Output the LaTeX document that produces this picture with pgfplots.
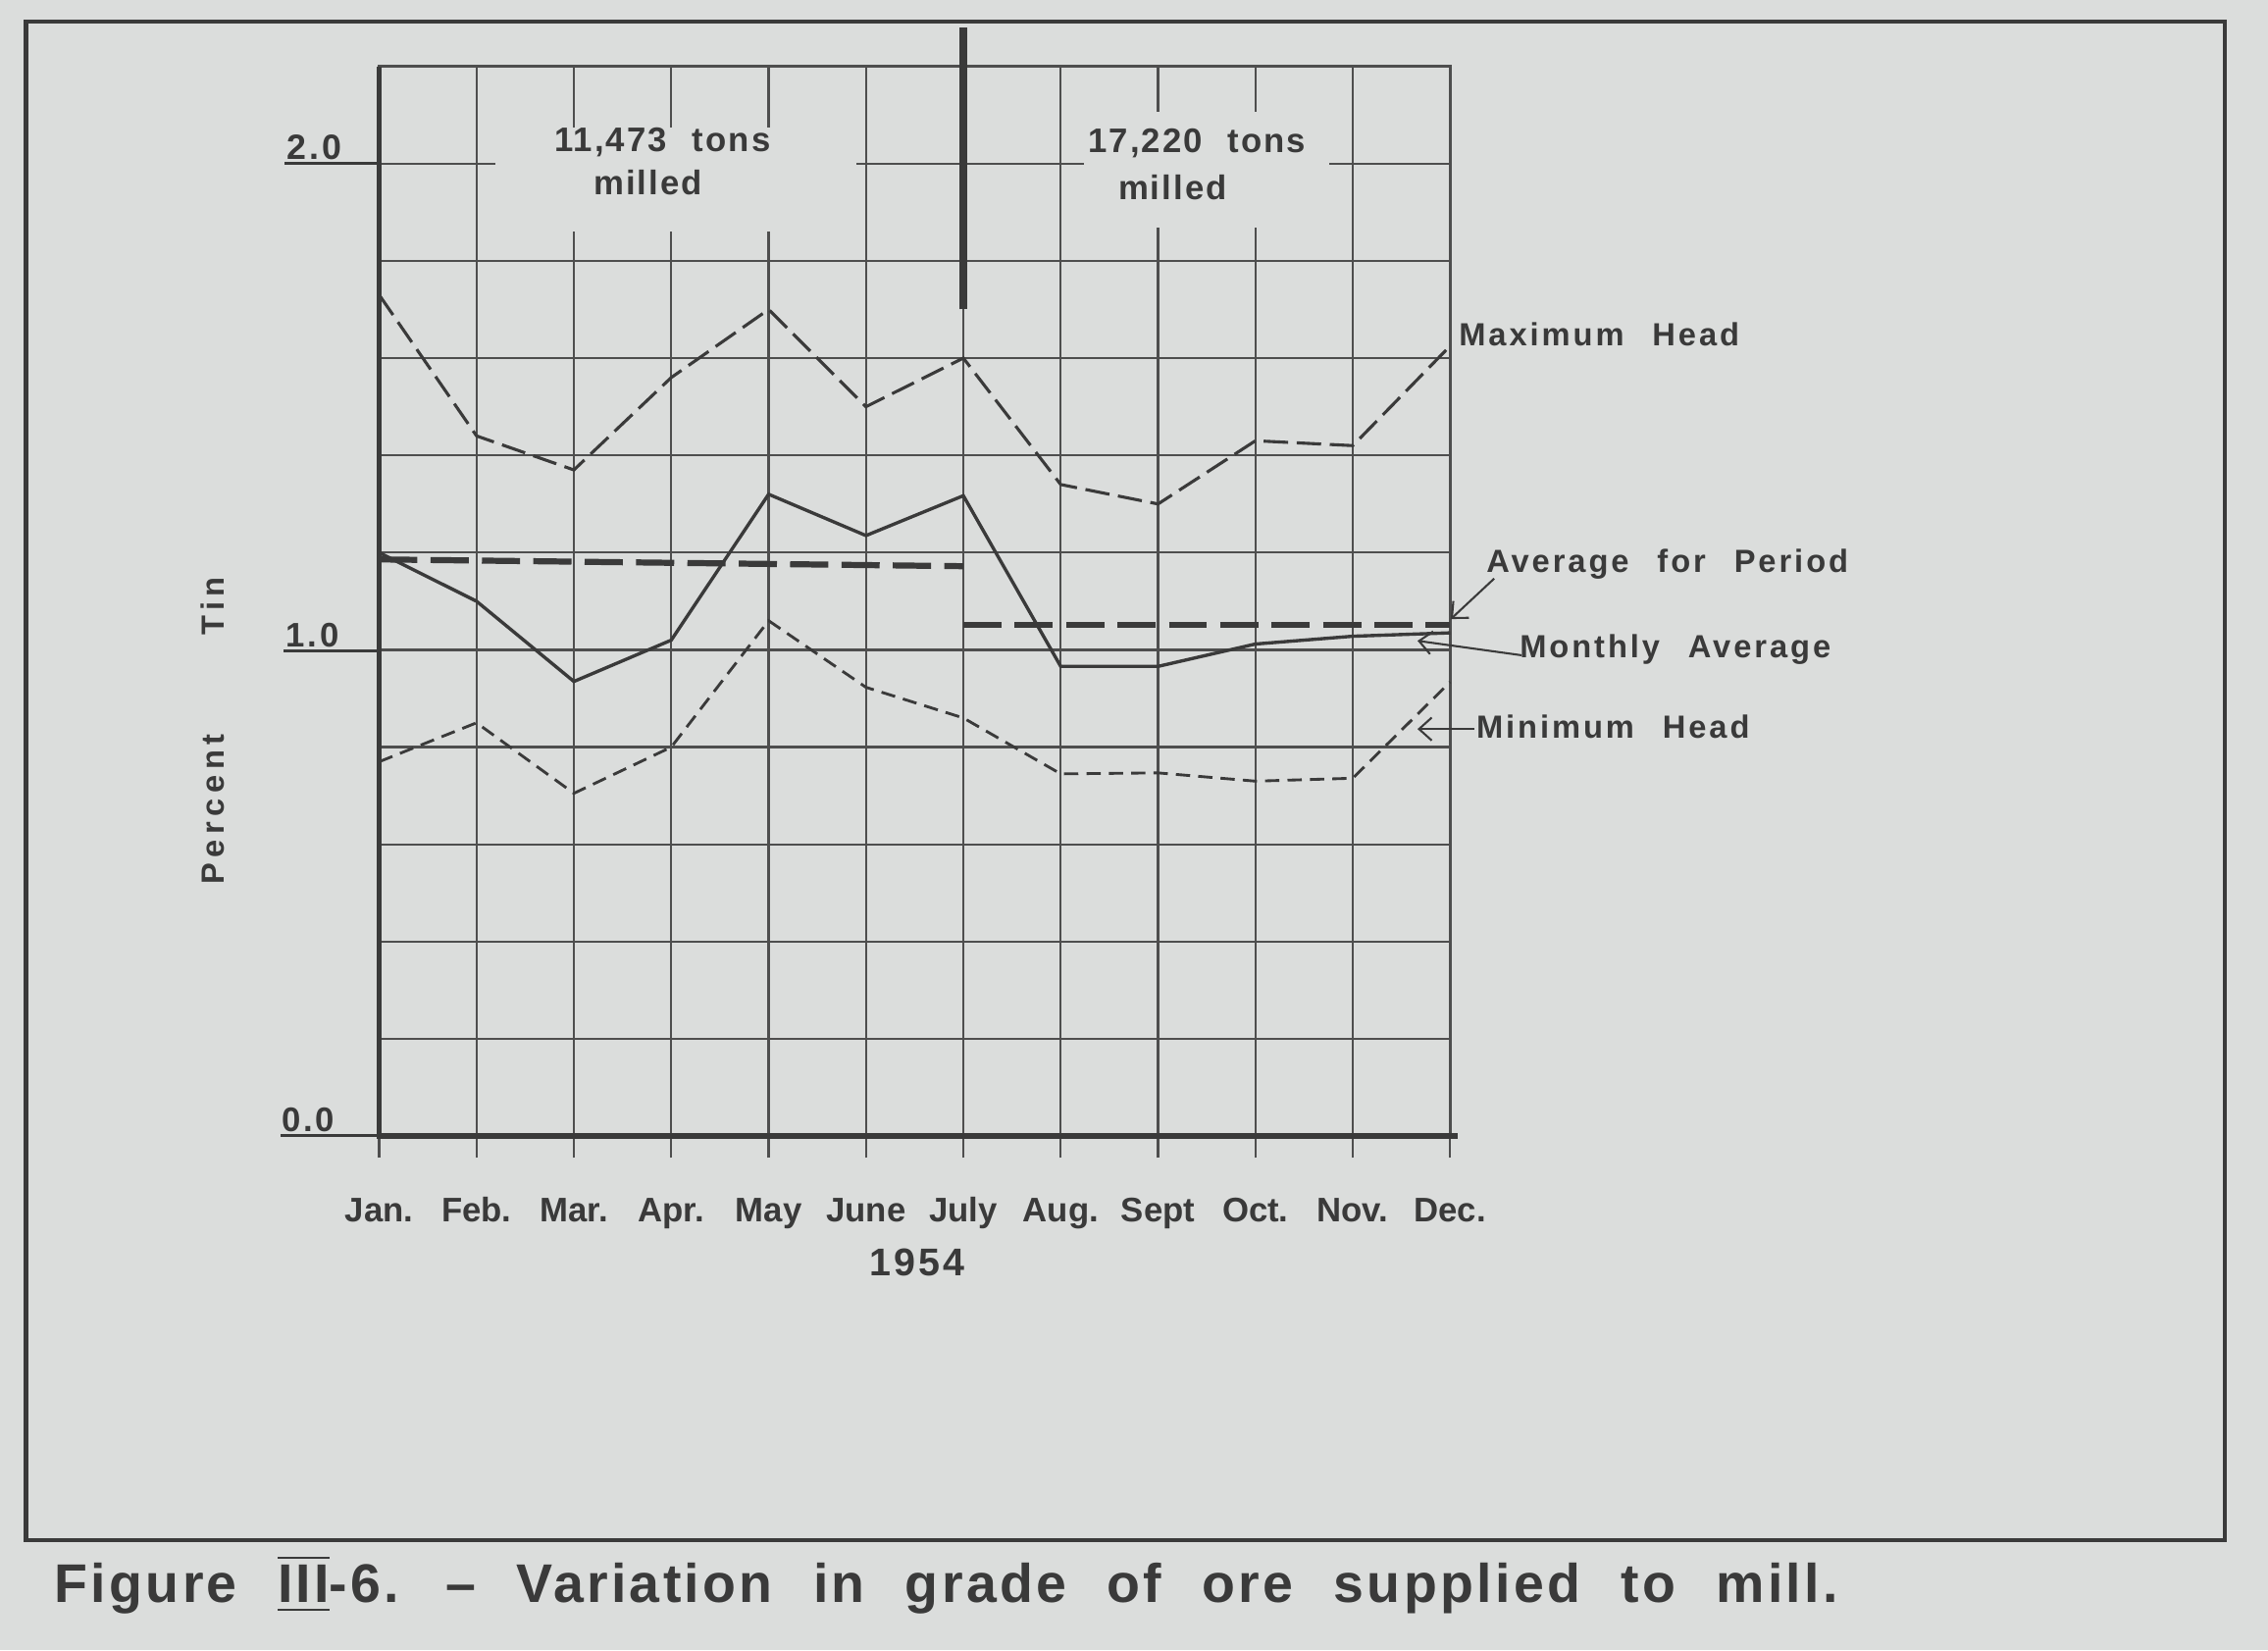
\documentclass[border=0pt]{standalone}
\usepackage{pgfplots}
\pgfplotsset{compat=1.18}
\usepackage{fontspec}
\setmainfont{Liberation Sans}
\usetikzlibrary{arrows.meta}
\definecolor{paper}{RGB}{219,221,220}
\definecolor{ink}{RGB}{58,58,58}
\definecolor{gridink}{RGB}{78,78,78}
\newfontfamily\labfont[LetterSpace=9,WordSpace=2.4]{Liberation Sans}
\newfontfamily\topfont[LetterSpace=6,WordSpace=2.5]{Liberation Sans}
\newfontfamily\numfont[LetterSpace=8]{Liberation Sans}
\newfontfamily\sparsefont[LetterSpace=17]{Liberation Sans}
\newfontfamily\capfont[LetterSpace=6,WordSpace=2.2]{Liberation Sans}

\begin{document}
\begin{tikzpicture}
% page, frame and texts in pixel units of the reference (y down)
\begin{scope}[x=0.01cm,y=-0.01cm]
\fill[paper] (0,0) rectangle (1568,1141);
\path[use as bounding box] (0,0) rectangle (1568,1141);
\draw[ink,line width=0.8pt] (18,15) rectangle (1538,1065);
\end{scope}

\begin{axis}[
  at={(2.62cm,-7.85cm)}, anchor=south west,
  scale only axis, width=7.40cm, height=7.392cm,
  xmin=0, xmax=11, ymin=0, ymax=2.2,
  clip=false,
  axis on top=false,
  axis line style={draw=gridink,line width=0.5pt},
  xtick={0,...,11},
  xticklabels={Jan., Feb., Mar., Apr., May, June, July, Aug., Sept, Oct., Nov., Dec.},
  ytick={0,0.2,0.4,0.6,0.8,1,1.2,1.4,1.6,1.8,2,2.2},
  yticklabels={},
  grid=major,
  grid style={draw=gridink,line width=0.45pt},
  tick pos=left,
  xtick align=outside,
  major tick length=0.15cm,
  xtick style={draw=gridink,line width=0.45pt},
  ytick style={draw=none},
  xticklabel style={font=\fontsize{6.7}{8}\selectfont\bfseries, text=ink, anchor=base, yshift=-0.44cm, inner sep=0pt},
]
% blank the grid behind the tonnage notes
\fill[paper] (axis cs:1.19,1.86) rectangle (axis cs:4.9,2.075);
\fill[paper] (axis cs:7.24,1.868) rectangle (axis cs:9.76,2.106);

% maximum head
\addplot[ink, line width=0.6pt, dash pattern=on 4.8pt off 1.7pt] coordinates {
(0,1.73) (1,1.44) (2,1.37) (3,1.56) (4,1.70) (5,1.50) (6,1.60)
(7,1.34) (8,1.30) (9,1.43) (10,1.42) (11,1.625)};
% monthly average
\addplot[ink, line width=0.65pt] coordinates {
(0,1.20) (1,1.10) (2,0.935) (3,1.02) (4,1.32) (5,1.235) (6,1.317)
(7,0.966) (8,0.966) (9,1.012) (10,1.028) (11,1.035)};
% minimum head
\addplot[ink, line width=0.55pt, dash pattern=on 2.8pt off 1.6pt] coordinates {
(0,0.77) (1,0.85) (2,0.705) (3,0.80) (4,1.06) (5,0.923) (6,0.86)
(7,0.745) (8,0.747) (9,0.73) (10,0.736) (11,0.934)};
% average for period
\addplot[ink, line width=1.2pt, dash pattern=on 7.5pt off 2.6pt] coordinates {(0,1.186) (6,1.172)};
\addplot[ink, line width=1.2pt, dash pattern=on 7.5pt off 2.6pt] coordinates {(6,1.051) (11,1.051)};
% division at July
\addplot[ink, line width=1.5pt] coordinates {(6,1.70) (6,2.28)};

% heavy left and bottom axis
\draw[ink, line width=1.1pt] (axis cs:0,2.2) -- (axis cs:0,0) -- (axis cs:11.08,0);

\node[ink, font=\fontsize{6.7}{8}\topfont\bfseries, anchor=center, inner sep=0pt] at (axis cs:2.91,2.043) {11,473 tons};
\node[ink, font=\fontsize{6.7}{8}\topfont\bfseries, anchor=center, inner sep=0pt] at (axis cs:2.76,1.96) {milled};
\node[ink, font=\fontsize{6.7}{8}\topfont\bfseries, anchor=center, inner sep=0pt] at (axis cs:8.40,2.041) {17,220 tons};
\node[ink, font=\fontsize{6.7}{8}\topfont\bfseries, anchor=center, inner sep=0pt] at (axis cs:8.15,1.95) {milled};
\end{axis}

\begin{scope}[x=0.01cm,y=-0.01cm]
% y labels with their underlines
\draw[ink,line width=0.6pt] (197,113) -- (262,113);
\draw[ink,line width=0.6pt] (196,450) -- (262,450);
\draw[ink,line width=0.6pt] (194,785) -- (262,785);
\node[ink, font=\fontsize{6.9}{8}\numfont\bfseries, anchor=base west, inner sep=0pt] at (198,110) {2.0};
\node[ink, font=\fontsize{6.7}{8}\numfont\bfseries, anchor=base west, inner sep=0pt] at (197,447) {1.0};
\node[ink, font=\fontsize{6.7}{8}\numfont\bfseries, anchor=base west, inner sep=0pt] at (194,782) {0.0};
% axis title
\node[ink, font=\fontsize{6.3}{8}\sparsefont\bfseries, rotate=90, anchor=base west, inner sep=0pt] at (155,612) {Percent};
\node[ink, font=\fontsize{6.3}{8}\sparsefont\bfseries, rotate=90, anchor=base west, inner sep=0pt] at (155,440) {Tin};
\node[ink, font=\fontsize{7.6}{9}\numfont\bfseries, anchor=base, inner sep=0pt] at (634,882) {1954};
% series labels
\node[ink, font=\fontsize{6.3}{8}\labfont\bfseries, anchor=base west, inner sep=0pt] at (1008,239) {Maximum Head};
\node[ink, font=\fontsize{6.3}{8}\labfont\bfseries, anchor=base west, inner sep=0pt] at (1027,396) {Average for Period};
\node[ink, font=\fontsize{6.3}{8}\labfont\bfseries, anchor=base west, inner sep=0pt] at (1050,455) {Monthly Average};
\node[ink, font=\fontsize{6.3}{8}\labfont\bfseries, anchor=base west, inner sep=0pt] at (1020,510) {Minimum Head};
\draw[ink,line width=0.4pt,-{Straight Barb[length=2.5pt,width=4.5pt]}] (1033,400) -- (1003,428);
\draw[ink,line width=0.4pt,-{Straight Barb[length=2.5pt,width=4.5pt]}] (1052,453) -- (980,443);
\draw[ink,line width=0.4pt,-{Straight Barb[length=2.5pt,width=4.5pt]}] (1019,504) -- (980,504);
% caption
\node[ink, font=\fontsize{10.7}{12}\capfont\bfseries, anchor=base west, inner sep=0pt] at (37,1108)
  {Figure $\overline{\underline{\mbox{III}}}$-6. – Variation in grade of ore supplied to mill.};
\end{scope}
\end{tikzpicture}
\end{document}
